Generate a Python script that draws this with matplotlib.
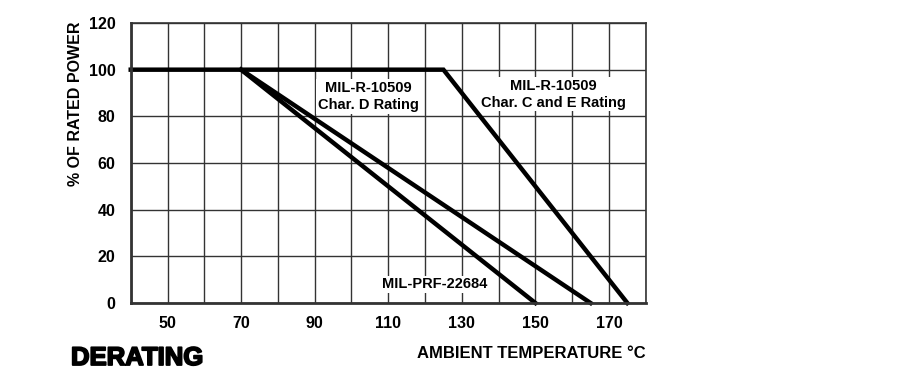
import matplotlib
matplotlib.use("Agg")
import matplotlib.pyplot as plt
import matplotlib.patheffects as pe

# 降额曲线数据
temp_ce = [40, 125, 175]
power_ce = [100, 100, 0]
temp_d = [70, 165]
power_d = [100, 0]
temp_prf = [70, 150]
power_prf = [100, 0]

xticks = [50, 70, 90, 110, 130, 150, 170]
yticks = [0, 20, 40, 60, 80, 100, 120]

plt.rcParams["font.family"] = ["Liberation Sans", "DejaVu Sans"]
plt.rcParams["font.weight"] = "bold"

fig = plt.figure(figsize=(8.99, 3.79), dpi=100)
ax = fig.add_axes([0.1454, 0.2005, 0.5729, 0.7388])

ax.set_xlim(40, 180)
ax.set_ylim(0, 120)
ax.set_xticks(range(40, 181, 10))
ax.set_xticklabels([str(t) if t in xticks else "" for t in range(40, 181, 10)])
ax.set_yticks(yticks)
ax.grid(True, color="#333333", linewidth=1.0)
ax.set_axisbelow(True)
ax.tick_params(length=0, labelsize=11.5, colors="black")
ax.tick_params(axis="x", pad=9)
ax.tick_params(axis="y", pad=11)
for lab in ax.get_xticklabels() + ax.get_yticklabels():
    lab.set_fontweight("bold")
for s in ax.spines.values():
    s.set_color("#333333")
    s.set_linewidth(1.2)
ax.spines["left"].set_linewidth(2)
ax.spines["bottom"].set_linewidth(2)

lw = 3.2
ax.plot(temp_ce, power_ce, color="black", linewidth=lw, solid_joinstyle="miter", clip_on=False)
ax.plot(temp_d, power_d, color="black", linewidth=lw, clip_on=False)
ax.plot(temp_prf, power_prf, color="black", linewidth=lw, clip_on=False)

box = dict(facecolor="white", edgecolor="none", pad=1)
ax.text(104.5, 88.5, "MIL-R-10509\nChar. D Rating", ha="center", va="center",
        fontsize=10.5, fontweight="bold", linespacing=1.3, bbox=box)
ax.text(155, 89.5, "MIL-R-10509\nChar. C and E Rating", ha="center", va="center",
        fontsize=10.5, fontweight="bold", linespacing=1.3, bbox=box)
ax.text(122.5, 8, "MIL-PRF-22684", ha="center", va="center",
        fontsize=10.5, fontweight="bold", bbox=box)

fig.text(75 / 899, 1 - 104 / 379, "% OF RATED POWER", rotation=90, ha="center",
         va="center", fontsize=11.5, fontweight="bold")
fig.text(646 / 899, 1 - 353 / 379, "AMBIENT TEMPERATURE °C", ha="right",
         va="center", fontsize=12, fontweight="bold")
fig.text(71 / 899, 1 - 358 / 379, "DERATING", ha="left", va="center",
         fontsize=18.5, fontweight="heavy",
         path_effects=[pe.withStroke(linewidth=1.3, foreground="black")])

fig.savefig("out.png", dpi=100)
